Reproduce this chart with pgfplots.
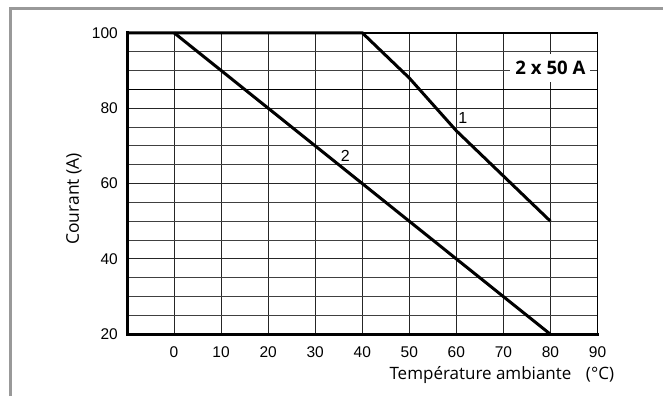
\documentclass[border=0pt]{standalone}
\usepackage{pgfplots}
\pgfplotsset{compat=1.18}
\usepackage{fontspec}
\setmainfont{Open Sans}
\newfontfamily\tickfont{Liberation Sans}
\begin{document}
\begin{tikzpicture}
\path[use as bounding box] (0pt,0pt) rectangle (663pt,396pt);
\draw[line width=3pt, color=black!40] (10pt,0pt) -- (10pt,387.3pt) -- (663pt,387.3pt);
\begin{axis}[
  at={(127pt,61.7pt)}, anchor=south west,
  scale only axis, width=470.5pt, height=301.5pt,
  xmin=-10, xmax=90, ymin=20, ymax=100,
  xtick={0,10,...,90}, ytick={20,40,...,100},
  minor ytick={25,30,35,45,50,55,65,70,75,90,95},
  major tick length=0pt, minor tick length=0pt,
  grid=both,
  major grid style={black!85, line width=1.1pt},
  minor grid style={black!75, line width=0.9pt},
  extra y ticks={85}, extra y tick labels={},
  extra y tick style={grid=major, major grid style={black, line width=1.6pt}},
  axis line style={line width=1.8pt},
  clip=false,
  /pgf/number format/assume math mode=true,
  ticklabel style={font=\tickfont\fontsize{15.5}{17}\selectfont},
  yticklabel style={inner sep=0pt, anchor=east, xshift=-9pt},
  xticklabel style={inner sep=0pt, anchor=north, yshift=-12.5pt},
  xlabel={Température ambiante},
  xlabel style={at={(axis description cs:0.7513,0)}, anchor=base, yshift=-45pt, font=\fontsize{17}{20}\selectfont},
  ylabel={Courant (A)},
  ylabel style={at={(axis description cs:-0.1126,0.4488)}, anchor=center, font=\fontsize{17.5}{20}\selectfont},
]
\addplot[line width=3pt, black, line join=miter] coordinates {(-10,100) (40,100) (50,88) (60,74) (70,62) (80,50)};
\addplot[line width=3pt, black] coordinates {(0,100) (80,20)};
\draw[line width=3pt, line cap=rect] (rel axis cs:0,1) -- (rel axis cs:0,0) -- (rel axis cs:1,0);
\node[font=\tickfont\fontsize{16}{18}\selectfont] at (axis cs:61.4,77.5) {1};
\node[font=\tickfont\fontsize{16}{18}\selectfont] at (axis cs:36.4,67.4) {2};
\node[fill=white, inner xsep=5pt, inner ysep=7pt, font=\bfseries\fontsize{18.6}{20}\selectfont] at (axis cs:80,90.6) {2 x 50 A};
\node[anchor=base, yshift=-45pt, font=\fontsize{17}{20}\selectfont] at (axis description cs:1.0053,0) {(°C)};
\end{axis}
\end{tikzpicture}
\end{document}
